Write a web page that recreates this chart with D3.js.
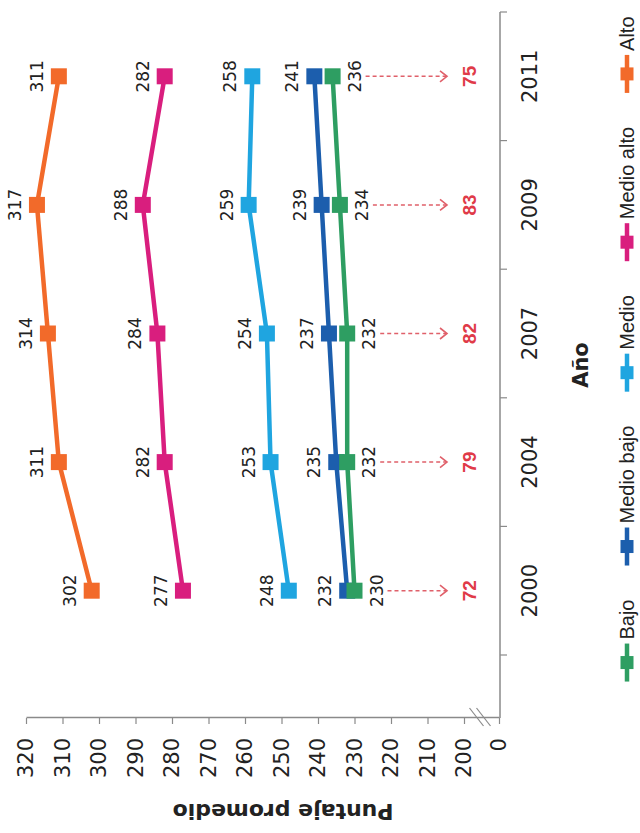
<!DOCTYPE html>
<html><head><meta charset="utf-8">
<script src="https://cdn.jsdelivr.net/npm/d3@7"></script>
<style>body{margin:0;background:#fff}svg{display:block}</style>
</head><body><svg id="c" width="640" height="833"></svg>
<script>
// ---- data ----
const years = ["2000","2004","2007","2009","2011"];
const seriesNames = ["Bajo","Medio bajo","Medio","Medio alto","Alto"];
const bajo      = [230,232,232,234,236];
const medioBajo = [232,235,237,239,241];
const medio     = [248,253,254,259,258];
const medioAlto = [277,282,284,288,282];
const alto      = [302,311,314,317,311];
const gaps      = [72,79,82,83,75];
const valueTicks = [0,200,210,220,230,240,250,260,270,280,290,300,310,320];
const colors = ["#2e9e62","#1c5ead","#1fa5e0","#d91e7e","#f26a2a"];
const xTitle = "Año";
const yTitle = "Puntaje promedio";

// ---- layout (chart is drawn in its own frame, then rotated 90° CCW) ----
const W = 833, H = 640;
const svg = d3.select("#c");
const g = svg.append("g").attr("transform", `translate(0,${W}) rotate(-90)`);

const axisX0 = 115, axisY0 = 500;
const x = d3.scaleBand().domain(years).range([178, 821]).padding(0);
const y = d3.scaleLinear().domain([0, 200, 320]).range([499, 464, 26]);
const cx = d => x(d) + x.bandwidth() / 2;
const axisColor = "#8a8a8a";

// value axis
const gy = g.append("g").attr("transform", `translate(${axisX0},0)`)
  .call(d3.axisLeft(y).tickValues(valueTicks).tickSize(6).tickSizeOuter(0).tickPadding(14));
gy.select(".domain").attr("stroke", axisColor).attr("stroke-width", 1.5);
gy.selectAll(".tick line").attr("stroke", axisColor).attr("stroke-width", 1.2);
gy.selectAll("text").attr("font-family", "DejaVu Sans").attr("font-size", 21).attr("fill", "#222");

// axis break marks
const mid = (y(0) + y(200)) / 2;
[-4, 3].forEach(o => {
  g.append("line")
    .attr("x1", axisX0 + 10).attr("y1", mid + o - 8)
    .attr("x2", axisX0 - 8).attr("y2", mid + o + 6)
    .attr("stroke", axisColor).attr("stroke-width", 1.2);
});

// category axis
const gx = g.append("g").attr("transform", `translate(0,${axisY0})`);
gx.append("line").attr("x1", axisX0).attr("x2", x.range()[1])
  .attr("stroke", axisColor).attr("stroke-width", 1.5);
const bounds = years.map(d => x(d)).concat([x.range()[1]]);
gx.selectAll("line.tk").data(bounds).join("line").attr("class", "tk")
  .attr("x1", d => d).attr("x2", d => d).attr("y1", 0).attr("y2", 7)
  .attr("stroke", axisColor).attr("stroke-width", 1.2);
const gxl = gx.append("g").call(d3.axisBottom(x).tickSize(0).tickPadding(22));
gxl.select(".domain").remove();
gxl.selectAll("text").attr("font-family", "DejaVu Sans").attr("font-size", 21).attr("fill", "#222");

// titles
g.append("text").attr("x", (axisX0 + x.range()[1]) / 2).attr("y", 588)
  .attr("text-anchor", "middle").attr("font-family", "DejaVu Sans").attr("font-weight", "bold")
  .attr("font-size", 21).attr("fill", "#222").text(xTitle);
g.append("text").attr("transform", `translate(29,283) rotate(-90)`)
  .attr("text-anchor", "middle").attr("font-family", "DejaVu Sans").attr("font-weight", "bold")
  .attr("font-size", 22).attr("fill", "#222").text(yTitle);

// series
const seriesValues = [bajo, medioBajo, medio, medioAlto, alto];
const series = seriesNames.map((n, i) => ({ name: n, values: seriesValues[i], color: colors[i], below: i === 0 }));
const line = d3.line().x((d, i) => cx(years[i])).y(d => y(d));
const drawOrder = series.slice().reverse();
const ms = 16;
drawOrder.forEach(s => {
  g.append("path").attr("d", line(s.values)).attr("fill", "none")
    .attr("stroke", s.color).attr("stroke-width", 4.5).attr("stroke-linejoin", "round");
  g.selectAll(null).data(s.values).join("rect")
    .attr("x", (d, i) => cx(years[i]) - ms / 2).attr("y", d => y(d) - ms / 2)
    .attr("width", ms).attr("height", ms).attr("fill", s.color);
});
series.forEach(s => {
  g.selectAll(null).data(s.values).join("text")
    .attr("x", (d, i) => cx(years[i]))
    .attr("y", d => s.below ? y(d) + 28 : y(d) - 16)
    .attr("text-anchor", "middle").attr("font-family", "DejaVu Sans").attr("font-size", 17)
    .attr("fill", "#222").text(d => d);
});

// gap arrows and numbers
const red = "#e03a48";
const arrowEnd = 447;
years.forEach((yr, i) => {
  const xx = cx(yr);
  const y1 = y(bajo[i]) + 33;
  g.append("line").attr("x1", xx).attr("x2", xx).attr("y1", y1).attr("y2", arrowEnd - 1)
    .attr("stroke", "#e0606a").attr("stroke-width", 1.5).attr("stroke-dasharray", "4,3");
  g.append("path").attr("d", `M${xx - 5.5},${arrowEnd - 7}L${xx},${arrowEnd}L${xx + 5.5},${arrowEnd - 7}`)
    .attr("fill", "none").attr("stroke", "#e0606a").attr("stroke-width", 1.6);
  g.append("text").attr("x", xx).attr("y", 476).attr("text-anchor", "middle")
    .attr("font-family", "Liberation Sans").attr("font-weight", "bold").attr("font-size", 19)
    .attr("fill", red).text(gaps[i]);
});

// legend
const lg = g.append("g").attr("transform", "translate(0,627)");
const symW = 38, symGap = 4, itemGap = 34;
const items = lg.selectAll("g").data(series).join("g");
items.append("line").attr("x1", 0).attr("x2", symW).attr("stroke", d => d.color).attr("stroke-width", 4.5);
items.append("rect").attr("x", symW / 2 - 6.5).attr("y", -6.5).attr("width", 13).attr("height", 13).attr("fill", d => d.color);
items.append("text").attr("x", symW + symGap).attr("y", 7)
  .attr("font-family", "Liberation Sans").attr("font-size", 20).attr("fill", "#222").text(d => d.name);
const widths = [];
items.each(function() { widths.push(symW + symGap + d3.select(this).select("text").node().getComputedTextLength()); });
const total = d3.sum(widths) + itemGap * (widths.length - 1);
let pos = (axisX0 + x.range()[1]) / 2 + 16 - total / 2;
items.each(function(d, i) { d3.select(this).attr("transform", `translate(${pos},0)`); pos += widths[i] + itemGap; });
</script></body></html>
